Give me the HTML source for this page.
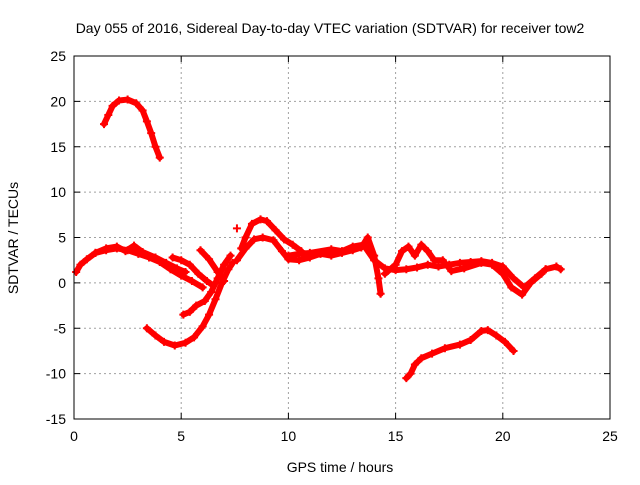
<!DOCTYPE html>
<html><head><meta charset="utf-8"><style>
body{margin:0;background:#fff;font-family:"Liberation Sans",sans-serif}
</style></head><body>
<svg id="chart" width="640" height="480" xmlns="http://www.w3.org/2000/svg">
<rect x="0" y="0" width="640" height="480" fill="#fff"/>
<text x="330" y="33" font-size="14" text-anchor="middle" fill="#000">Day 055 of 2016, Sidereal Day-to-day VTEC variation (SDTVAR) for receiver tow2</text>
<text x="340" y="472" font-size="14" text-anchor="middle">GPS time / hours</text>
<text x="18" y="238" font-size="14" text-anchor="middle" transform="rotate(-90 18 238)">SDTVAR / TECUs</text>
<g id="grid"></g><g id="ticks"></g><g id="series"></g>
<rect x="74" y="56" width="536" height="363" fill="none" stroke="#000" stroke-width="1"/>
</svg>
<script>
const xTicks=[0,5,10,15,20,25];
const yTicks=[25,20,15,10,5,0,-5,-10,-15];
const s1=[[1.4,17.5],[1.6,18.5],[1.8,19.5],[2.1,20.1],[2.5,20.2],[2.9,19.8],[3.2,19],[3.4,17.8],[3.6,16.5],[3.8,15],[4.0,13.8]];
const s2=[[0.1,1.2],[0.3,2],[0.6,2.6],[1,3.3],[1.5,3.6],[2,3.8],[2.5,3.6],[3,3.2],[3.5,2.8],[4,2.3],[4.5,1.5],[5,0.8],[5.5,0.2],[6,-0.5]];
const s3=[[1,3.3],[1.5,3.8],[2,4],[2.4,3.5],[2.8,4.1],[3.2,3.4],[3.8,2.8],[4.3,2.2],[4.8,1.6],[5.2,1.2]];
const s4=[[3.4,-5],[3.8,-5.8],[4.2,-6.5],[4.7,-6.9],[5.2,-6.6],[5.6,-6],[6,-4.8],[6.3,-3.5],[6.6,-1.8],[6.9,0],[7.2,1.5],[7.4,2.2]];
const s5=[[5.1,-3.5],[5.4,-3.2],[5.7,-2.5],[6.1,-2],[6.4,-1],[6.7,0.5],[7,2],[7.3,3]];
const s6=[[4.6,2.8],[5,2.5],[5.4,2],[5.8,1],[6.2,0.2],[6.5,-0.3]];
const s7=[[5.9,3.6],[6.3,2.6],[6.7,1.2],[7,0.2]];
const s8=[[7.8,3.8],[8,5],[8.3,6.5],[8.7,7],[9,6.8],[9.4,5.8],[9.8,4.8],[10.2,4.2],[10.6,3.5]];
const s9=[[7.6,2.5],[8,3.8],[8.4,4.8],[8.8,5],[9.3,4.7],[9.7,3.5],[10,2.6],[10.5,2.5],[11,2.8],[11.5,3.2],[12,3],[12.5,3.3],[13,3.6],[13.4,3.9],[13.7,5],[14,3],[14.2,0.5],[14.3,-1.2]];
const s10=[[10,3],[10.5,3.2],[11,3.3],[12,3.7],[12.5,3.5],[13,4],[13.5,4.2],[14,2.5],[14.5,1.6],[15,1.4],[15.5,1.5],[16,1.7],[16.5,2],[17,1.8],[17.5,2],[18,2.2],[18.5,2.3],[19,2.4],[19.5,2.2],[20,1.8],[20.5,0.5],[21,-0.5],[21.5,0.5],[22,1.5],[22.5,1.8],[22.7,1.5]];
const s11=[[14.5,1],[15,2],[15.3,3.5],[15.6,4],[15.9,3],[16.2,4.2],[16.5,3.5],[16.8,2.5],[17.2,2.5],[17.6,1.3],[18.2,1.6],[19,2.2],[19.5,2],[20,1],[20.4,-0.5],[20.9,-1.3],[21.3,0],[21.8,1],[22,1.5]];
const s12=[[15.5,-10.5],[15.7,-10],[15.9,-9],[16.2,-8.3],[16.7,-7.8],[17.3,-7.2],[18,-6.8],[18.5,-6.3],[19,-5.3],[19.3,-5.2],[19.7,-5.8],[20.1,-6.5],[20.5,-7.5]];
const s13=[[7.6,6]];
const allSeries=[s1,s2,s3,s4,s5,s6,s7,s8,s9,s10,s11,s12,s13];
const NS="http://www.w3.org/2000/svg";
const X0=74,X1=610,Y0=419,Y1=56;
function sx(v){return X0+(v-0)/(25-0)*(X1-X0);}
function sy(v){return Y0-(v+15)/(25+15)*(Y0-Y1);}
function mk(t,a,parent){const e=document.createElementNS(NS,t);for(const k in a)e.setAttribute(k,a[k]);parent.appendChild(e);return e;}
const grid=document.getElementById('grid'),ticks=document.getElementById('ticks'),ser=document.getElementById('series');
xTicks.forEach(t=>{const x=sx(t);
 if(t>0&&t<25){const g=mk('line',{x1:x,y1:Y0,x2:x,y2:Y1,stroke:'#a0a0a0','stroke-dasharray':'2,3'},grid);
 
 }
 mk('line',{x1:x,y1:Y0,x2:x,y2:Y0-6,stroke:'#000'},ticks);mk('line',{x1:x,y1:Y1,x2:x,y2:Y1+6,stroke:'#000'},ticks);
 const l=mk('text',{x:x,y:Y0+22,'font-size':14,'text-anchor':'middle'},ticks);l.textContent=t;
 
 });
yTicks.forEach(t=>{const y=sy(t);
 if(t>-15&&t<25){const g=mk('line',{x1:X0,y1:y,x2:X1,y2:y,stroke:'#a0a0a0','stroke-dasharray':'2,3'},grid);
 
 }
 mk('line',{x1:X0,y1:y,x2:X0+6,y2:y,stroke:'#000'},ticks);mk('line',{x1:X1,y1:y,x2:X1-6,y2:y,stroke:'#000'},ticks);
 const l=mk('text',{x:X0-8,y:y+5,'font-size':14,'text-anchor':'end'},ticks);l.textContent=t;
 
 });
allSeries.forEach((s,i)=>{
 if(s.length>1){const p=mk('polyline',{points:s.map(d=>sx(d[0])+','+sy(d[1])).join(' '),fill:'none',stroke:'#ff0000','stroke-width':6,'stroke-linejoin':'round','stroke-linecap':'round'},ser);
 
 }
 s.forEach(d=>{const x=sx(d[0]),y=sy(d[1]);
  const m=mk('path',{d:`M${x-4},${y}H${x+4}M${x},${y-4}V${y+4}`,stroke:'#ff0000','stroke-width':2},ser);
  
  });
});
</script>
</body></html>
